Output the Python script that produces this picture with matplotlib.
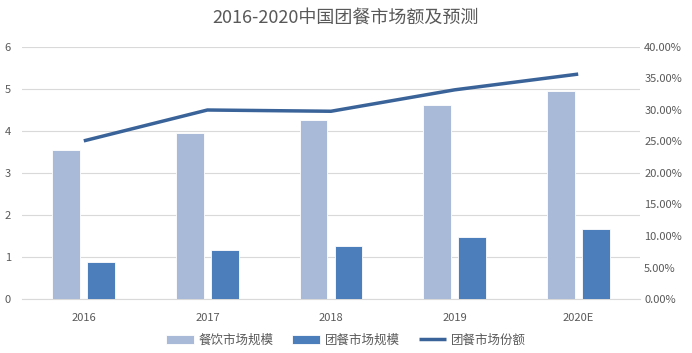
import matplotlib
matplotlib.use("Agg")
import matplotlib.pyplot as plt
import numpy as np
from matplotlib.ticker import FuncFormatter

plt.rcParams['font.family'] = ['Noto Sans CJK SC', 'DejaVu Sans']

categories = ['2016', '2017', '2018', '2019', '2020E']
catering_size = [3.55, 3.95, 4.26, 4.62, 4.95]
group_meal_size = [0.88, 1.17, 1.26, 1.48, 1.67]
group_meal_share = [0.251, 0.300, 0.298, 0.332, 0.357]

fig = plt.figure(figsize=(6.92, 3.53), dpi=100)
ax = fig.add_axes([22/692, 1-299/353, (640-22)/692, (299-47)/353])
ax2 = ax.twinx()

x = np.arange(len(categories))
w = 0.225
c_light = '#A9B9D8'
c_dark = '#4C7EBC'
c_line = '#3A6399'
tc = '#595959'

ax.bar(x - 0.142, catering_size, w, color=c_light, edgecolor='white', linewidth=0.6, zorder=3, label='餐饮市场规模')
ax.bar(x + 0.142, group_meal_size, w, color=c_dark, edgecolor='white', linewidth=0.6, zorder=3, label='团餐市场规模')
ax2.plot(x, group_meal_share, color=c_line, linewidth=2.5, zorder=4, label='团餐市场份额', solid_capstyle='butt')

ax.set_xlim(-0.5, len(categories) - 0.5)
ax.set_ylim(0, 6)
ax.set_yticks(range(0, 7))
ax2.set_ylim(0, 0.40)
ax2.set_yticks(np.arange(0, 0.401, 0.05))
ax2.yaxis.set_major_formatter(FuncFormatter(lambda v, p: f'{v*100:.2f}%'))

ax.set_xticks(x)
ax.set_xticklabels(categories)
ax.grid(axis='y', color='#D9D9D9', linewidth=0.8, zorder=0)
ax.set_axisbelow(True)

for a in (ax, ax2):
    for s in a.spines.values():
        s.set_visible(False)
    a.tick_params(length=0, colors=tc, labelsize=8)
ax.spines['bottom'].set_visible(True)
ax.spines['bottom'].set_color('#D9D9D9')
ax.tick_params(axis='x', pad=10)
ax.tick_params(axis='y', pad=8)
ax2.tick_params(axis='y', pad=3)

fig.text(0.5, 1-18/353, '2016-2020中国团餐市场额及预测', ha='center', va='center', fontsize=13, color=tc)

h1, l1 = ax.get_legend_handles_labels()
h2, l2 = ax2.get_legend_handles_labels()
fig.legend(h1 + h2, l1 + l2, loc='center', bbox_to_anchor=(0.5, 1-340/353), ncol=3, frameon=False,
           fontsize=9, labelcolor=tc, handlelength=2.2, columnspacing=1.5, handletextpad=0.4)

fig.savefig('out.png', dpi=100)
